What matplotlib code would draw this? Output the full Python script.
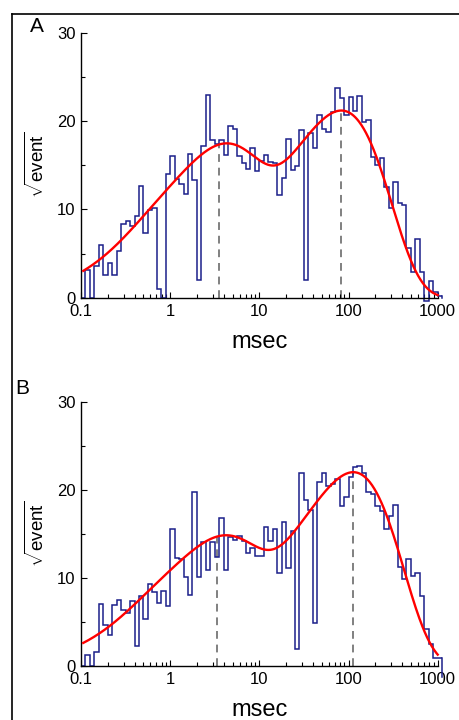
import numpy as np
import matplotlib
matplotlib.use('Agg')
import matplotlib.pyplot as plt
from matplotlib.ticker import LogLocator, MultipleLocator, NullFormatter
from matplotlib.lines import Line2D

plt.rcParams['font.family'] = ['Liberation Sans', 'DejaVu Sans']
plt.rcParams['mathtext.fontset'] = 'custom'
plt.rcParams['mathtext.rm'] = 'Liberation Sans'

# log bins, 20 per decade starting at 0.1 ms
bin_edges = 10 ** (-1 + 0.05 * np.arange(82))

# sqrt(event) per bin
hist_a = [0, 3.1, 0, 3.6, 6.0, 2.6, 3.9, 2.6, 5.3, 8.3,
          8.7, 8.1, 9.2, 12.6, 7.3, 9.9, 10.1, 1.0, 0, 14.0,
          16.0, 13.4, 12.9, 11.7, 16.3, 13.3, 2.0, 17.2, 23.0, 17.8,
          17.4, 17.8, 16.2, 19.4, 19.1, 16.0, 15.2, 14.6, 16.9, 14.4,
          15.5, 16.1, 15.4, 15.2, 11.6, 13.5, 18.0, 14.5, 14.9, 19.0,
          2.0, 18.6, 16.9, 20.7, 19.1, 18.8, 21.0, 23.7, 22.6, 20.7,
          22.7, 21.1, 22.8, 19.9, 20.1, 15.9, 15.0, 15.8, 12.5, 10.2,
          13.1, 10.7, 10.5, 5.6, 2.9, 6.7, 2.9, -0.4, 1.9, 0.6,
          0.2]
hist_b = [0, 1.3, 0, 1.55, 7.0, 4.7, 3.5, 6.9, 7.5, 6.3,
          6.0, 7.4, 2.3, 8.0, 5.3, 9.35, 8.45, 7.15, 8.55, 6.8,
          15.6, 12.25, 12.2, 10.15, 8.05, 19.75, 10.15, 14.05, 10.85, 14.05,
          12.35, 16.75, 10.9, 14.6, 14.35, 14.8, 14.15, 12.85, 13.35, 12.5,
          12.5, 15.8, 14.2, 15.5, 10.6, 16.4, 11.1, 15.3, 1.9, 21.9,
          18.8, 17.7, 4.9, 20.9, 21.9, 20.4, 20.7, 21.2, 18.2, 19.2,
          21.5, 22.6, 22.7, 21.9, 19.7, 19.5, 18.15, 17.6, 15.5, 17.0,
          18.3, 11.25, 9.85, 12.2, 10.2, 10.5, 8.0, 4.15, 2.45, 0.87,
          0.87]
tail_a = 0.0
tail_b = -1.2

# two-exponential fit (time constants in msec, amplitudes in event units)
tau_a = [3.5, 83.0]
amp_a = [251.0, 449.0]
tau_b = [3.35, 113.0]
amp_b = [178.0, 484.0]
dead_time = 0.19

BLUE = '#1b1f8a'


def fit_curve(t, taus, amps):
    s = np.zeros_like(t, dtype=float)
    for tau, a in zip(taus, amps):
        u = t / tau
        s += a * u * np.exp(1 - u)
    s *= 1 - np.exp(-t / dead_time)
    return np.sqrt(s)


def draw_panel(ax, hist, tail, taus, amps):
    ax.stairs(hist, bin_edges, baseline=None, color=BLUE, lw=1.1, clip_on=False, zorder=2)
    ax.plot([bin_edges[-1]] * 2, [hist[-1], tail], color=BLUE, lw=1.1, clip_on=False, zorder=2)
    t = np.logspace(np.log10(0.106), 3, 600)
    ax.plot(t, fit_curve(t, taus, amps), color='red', lw=1.7, clip_on=False, zorder=3)
    for tau in taus:
        top = fit_curve(np.array([tau]), taus, amps)[0]
        ax.plot([tau, tau], [0, top], color='#808080', lw=1.4, ls=(0, (4, 3)), zorder=1)

    ax.set_xscale('log')
    ax.set_xlim(0.1, 1000)
    ax.set_ylim(0, 30)
    for side in ('top', 'right'):
        ax.spines[side].set_visible(False)
    for side in ('left', 'bottom'):
        ax.spines[side].set_linewidth(1.0)
    ax.set_xticks([0.1, 1, 10, 100, 1000])
    ax.set_xticklabels(['0.1', '1', '10', '100', '1000'])
    ax.xaxis.set_minor_locator(LogLocator(base=10, subs=np.arange(2, 10)))
    ax.xaxis.set_minor_formatter(NullFormatter())
    ax.set_yticks([0, 10, 20, 30])
    ax.yaxis.set_minor_locator(MultipleLocator(5))
    ax.tick_params(which='both', direction='in', width=0.8, labelsize=12)
    ax.tick_params(which='major', length=4.3)
    ax.tick_params(which='minor', length=2.6)
    ax.tick_params(axis='y', pad=4)
    ax.tick_params(axis='x', pad=4.5)

    ax.set_xlabel('msec', fontsize=17)
    ax.xaxis.set_label_coords(0.5, -0.168)
    ax.xaxis.label.set_verticalalignment('center')
    ax.set_ylabel(r'$\sqrt{\mathrm{event}}$', fontsize=13.5)
    ax.yaxis.set_label_coords(-0.125, 0.5)
    ax.yaxis.label.set_verticalalignment('center')


fig = plt.figure(figsize=(4.59, 7.2), dpi=100)
ax_a = fig.add_axes([81 / 459, 1 - 297.7 / 720, 356.7 / 459, 265 / 720])
ax_b = fig.add_axes([81 / 459, 1 - 666 / 720, 356.7 / 459, 264.3 / 720])

draw_panel(ax_a, hist_a, tail_a, tau_a, amp_a)
draw_panel(ax_b, hist_b, tail_b, tau_b, amp_b)

fig.text(37 / 459, 1 - 26 / 720, 'A', fontsize=15, ha='center', va='center')
fig.text(22 / 459, 1 - 388 / 720, 'B', fontsize=15, ha='center', va='center')

# outer frame (left and top edges visible)
fx, fy = 12 / 459, 1 - 14 / 720
fig.add_artist(Line2D([fx, fx], [0, fy], transform=fig.transFigure, color='k', lw=1.2))
fig.add_artist(Line2D([fx, 1], [fy, fy], transform=fig.transFigure, color='k', lw=1.2))

fig.savefig('out.png', dpi=100)
